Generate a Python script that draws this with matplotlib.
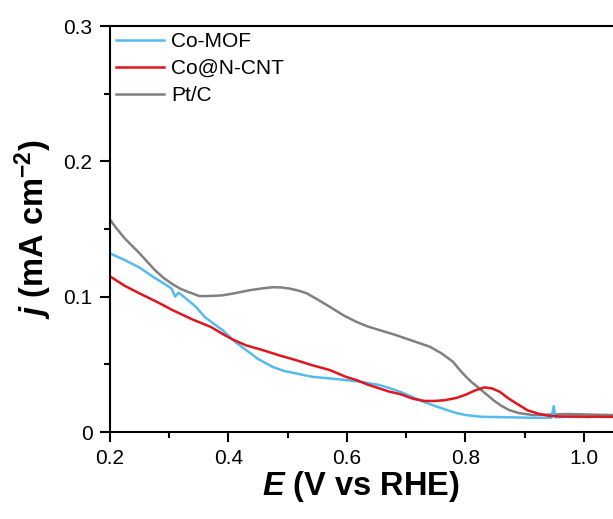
import matplotlib
matplotlib.use("Agg")
import matplotlib.pyplot as plt
from matplotlib.ticker import MultipleLocator

# Co-MOF
mof_x = [0.200, 0.225, 0.250, 0.275, 0.290, 0.304, 0.310, 0.316, 0.330, 0.345, 0.360,
         0.375, 0.390, 0.410, 0.430, 0.450, 0.475, 0.495, 0.514, 0.541, 0.571, 0.598,
         0.625, 0.655, 0.675, 0.690, 0.710, 0.729, 0.750, 0.769, 0.785, 0.801, 0.826,
         0.858, 0.914, 0.945, 0.949, 0.952, 0.970, 1.010]
mof_y = [0.132, 0.127, 0.1215, 0.114, 0.110, 0.106, 0.100, 0.103, 0.098, 0.0925, 0.085,
         0.080, 0.0753, 0.067, 0.0605, 0.054, 0.048, 0.045, 0.0433, 0.0408, 0.0396, 0.0384,
         0.037, 0.0347, 0.032, 0.0297, 0.026, 0.0224, 0.019, 0.0162, 0.014, 0.0125, 0.0113,
         0.0110, 0.0105, 0.0105, 0.019, 0.0108, 0.0112, 0.0110]

# Co@N-CNT
cnt_x = [0.200, 0.225, 0.250, 0.280, 0.306, 0.340, 0.370, 0.390, 0.407, 0.430, 0.458,
         0.4845, 0.514, 0.541, 0.571, 0.598, 0.616, 0.635, 0.655, 0.670, 0.690, 0.712,
         0.730, 0.746, 0.765, 0.785, 0.800, 0.815, 0.832, 0.845, 0.858, 0.872, 0.886,
         0.905, 0.925, 0.940, 0.960, 1.049]
cnt_y = [0.115, 0.108, 0.1024, 0.096, 0.090, 0.083, 0.0777, 0.0725, 0.0684, 0.064, 0.0605,
         0.0568, 0.0531, 0.0494, 0.0458, 0.0408, 0.0384, 0.035, 0.0322, 0.030, 0.028, 0.0245,
         0.023, 0.0229, 0.0235, 0.0252, 0.0275, 0.0305, 0.033, 0.0322, 0.0297, 0.025, 0.0211,
         0.016, 0.0133, 0.012, 0.0115, 0.0112]

# Pt/C
ptc_x = [0.200, 0.210, 0.225, 0.250, 0.275, 0.290, 0.304, 0.318, 0.332, 0.351, 0.370,
         0.390, 0.410, 0.436, 0.455, 0.475, 0.490, 0.503, 0.518, 0.532, 0.550, 0.571,
         0.595, 0.616, 0.635, 0.655, 0.680, 0.700, 0.720, 0.740, 0.760, 0.779, 0.790,
         0.801, 0.810, 0.820, 0.835, 0.847, 0.860, 0.874, 0.890, 0.914, 0.970, 1.049]
ptc_y = [0.157, 0.151, 0.143, 0.132, 0.120, 0.114, 0.1097, 0.106, 0.1035, 0.1004, 0.1005,
         0.101, 0.1025, 0.1048, 0.106, 0.107, 0.1068, 0.106, 0.1045, 0.1025, 0.098, 0.0925,
         0.086, 0.0814, 0.078, 0.0753, 0.072, 0.069, 0.066, 0.063, 0.058, 0.0519, 0.046,
         0.0408, 0.037, 0.0334, 0.028, 0.0236, 0.0195, 0.0162, 0.014, 0.0125, 0.0133, 0.0125]

plt.rcParams['font.family'] = ['Liberation Sans', 'DejaVu Sans']
plt.rcParams['mathtext.fontset'] = 'custom'
plt.rcParams['mathtext.rm'] = 'Liberation Sans:bold'
plt.rcParams['mathtext.it'] = 'Liberation Sans:bold:italic'
plt.rcParams['mathtext.bf'] = 'Liberation Sans:bold'

fig = plt.figure(figsize=(6.13, 5.19), dpi=100)
ax = fig.add_axes([0.1794, 0.1676, 0.8206, 0.7823])

l_ptc, = ax.plot(ptc_x, ptc_y, color='#808080', lw=1.8)
l_mof, = ax.plot(mof_x, mof_y, color='#55BBEE', lw=1.8)
l_cnt, = ax.plot(cnt_x, cnt_y, color='#E0161E', lw=1.8)

ax.set_xlim(0.2, 1.049)
ax.set_ylim(0, 0.3)
ax.xaxis.set_minor_locator(MultipleLocator(0.1))
ax.yaxis.set_minor_locator(MultipleLocator(0.05))
ax.set_xticks([0.2, 0.4, 0.6, 0.8, 1.0])
ax.set_xticklabels(['0.2', '0.4', '0.6', '0.8', '1.0'])
ax.set_yticks([0, 0.1, 0.2, 0.3])
ax.set_yticklabels(['0', '0.1', '0.2', '0.3'])

for s in ax.spines.values():
    s.set_linewidth(1.5)
ax.spines['right'].set_visible(False)
ax.tick_params(which='both', direction='out', width=1.5, labelsize=15, top=False, right=False)
ax.tick_params(which='major', length=7.5, pad=5)
ax.tick_params(which='minor', length=4.5)

ax.set_xlabel(r'$E$ (V vs RHE)', fontsize=23.5, fontweight='bold')
ax.xaxis.set_label_coords(0.5, -0.09)
ax.set_ylabel(r'$j$ (mA cm$^{-2}$)', fontsize=23.5, fontweight='bold')
ax.yaxis.set_label_coords(-0.112, 0.5)

ax.legend([l_mof, l_cnt, l_ptc], ['Co-MOF', 'Co@N-CNT', 'Pt/C'],
          loc='upper left', bbox_to_anchor=(0.0, 1.0), frameon=False, fontsize=15,
          handlelength=2.3, handletextpad=0.35, labelspacing=0.38,
          borderaxespad=0.0, borderpad=0.3)

fig.savefig('out.png', dpi=100)
